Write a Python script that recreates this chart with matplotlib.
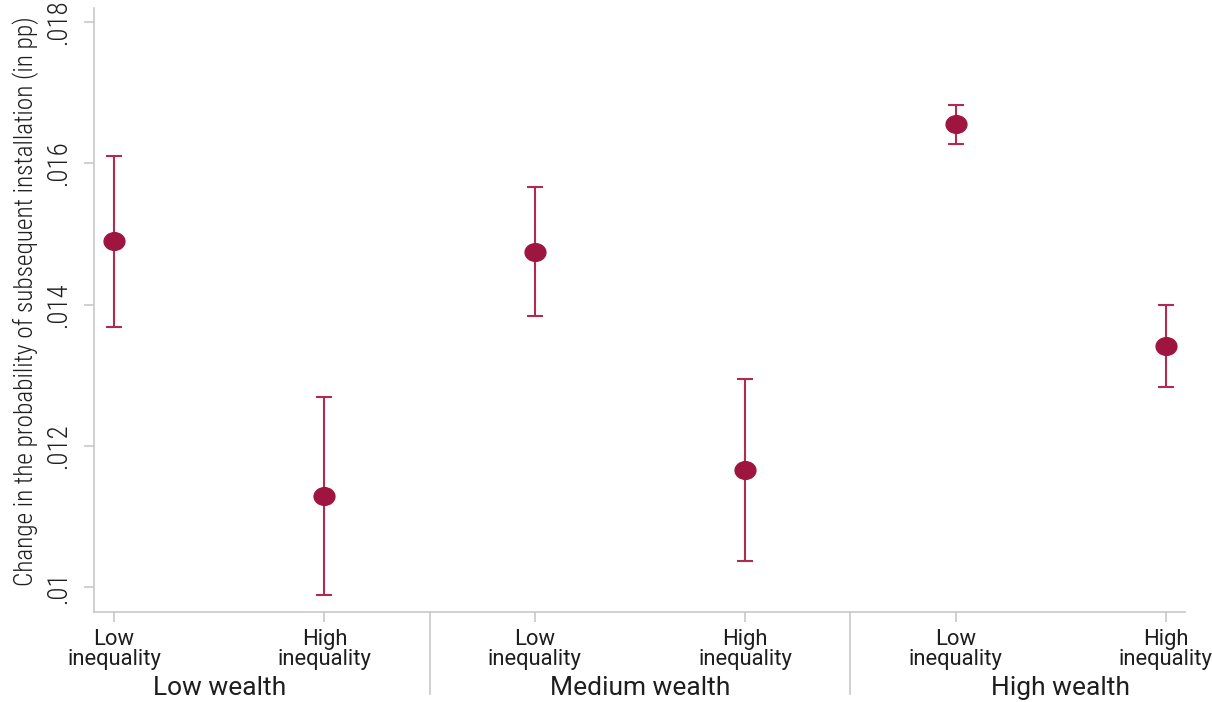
import matplotlib
matplotlib.use("Agg")
import matplotlib.pyplot as plt
import matplotlib.transforms as mtransforms
from matplotlib.path import Path
import numpy as np

# estimates and 95% CI bounds, one per wealth x inequality cell
groups = ["Low wealth", "Medium wealth", "High wealth"]
ineq_labels = ["Low\ninequality", "High\ninequality"]
estimate = [0.01490, 0.01129, 0.01475, 0.01166, 0.01656, 0.01341]
ci_low = [0.01368, 0.00989, 0.01384, 0.01037, 0.01627, 0.01283]
ci_high = [0.01610, 0.01269, 0.01567, 0.01295, 0.01683, 0.01399]
yticks = [0.010, 0.012, 0.014, 0.016, 0.018]
ytick_labels = [".01", ".012", ".014", ".016", ".018"]

cond = ["Roboto Condensed", "Roboto", "DejaVu Sans"]
fam = ["Roboto", "DejaVu Sans"]
axis_grey = "#c8c8c8"
text_col = "#1e1e1e"
dot_col = "#9e1640"
bar_col = "#b02a52"

x = np.arange(1, len(estimate) + 1)
est = np.array(estimate)
err = np.vstack([est - np.array(ci_low), np.array(ci_high) - est])

fig = plt.figure(figsize=(12.12, 7.02), dpi=100)
ax = fig.add_axes([0.0776, 0.1282, 0.9, 0.8604])

# slightly flattened dot marker
oval = Path.unit_circle().transformed(mtransforms.Affine2D().scale(1.0, 0.85))

ax.errorbar(x, est, yerr=err, fmt="none", ecolor=bar_col, elinewidth=1.5,
            capsize=5.8, capthick=1.5, zorder=2)
ax.plot(x, est, linestyle="none", marker=oval, markersize=15,
        color=dot_col, zorder=3)

ax.set_xlim(0.905, 6.09)
ax.set_ylim(0.00965, 0.0182)

for side in ["top", "right"]:
    ax.spines[side].set_visible(False)
for side in ["left", "bottom"]:
    ax.spines[side].set_color(axis_grey)
    ax.spines[side].set_linewidth(1.2)

ax.set_yticks(yticks)
ax.set_yticklabels(ytick_labels, rotation=90, va="center", family=cond,
                   fontweight="light", fontsize=19.4, color=text_col)
ax.tick_params(axis="y", length=7, width=1.2, color=axis_grey, pad=9)

ax.set_xticks(x)
ax.set_xticklabels(ineq_labels * 3, family=fam, fontsize=15.8,
                   color=text_col, linespacing=0.95)
ax.tick_params(axis="x", length=7, width=1.2, color=axis_grey, pad=5)

ax.set_ylabel("Change in the probability of subsequent installation (in pp)",
              family=cond, fontweight="light", fontsize=18.2, color=text_col,
              labelpad=4)
ax.yaxis.label.set_y(0.515)

# wealth group labels and separators under the axis
trans = mtransforms.blended_transform_factory(ax.transData, ax.transAxes)
for i, g in enumerate(groups):
    ax.text(2 * i + 1.5, -0.125, g, transform=trans, ha="center", va="center",
            family=fam, fontsize=19, color=text_col)
for sep in [2.5, 4.5]:
    ax.plot([sep, sep], [0, -0.135], transform=trans, color=axis_grey,
            linewidth=1.2, clip_on=False)

fig.savefig("out.png", dpi=100, facecolor="white")
